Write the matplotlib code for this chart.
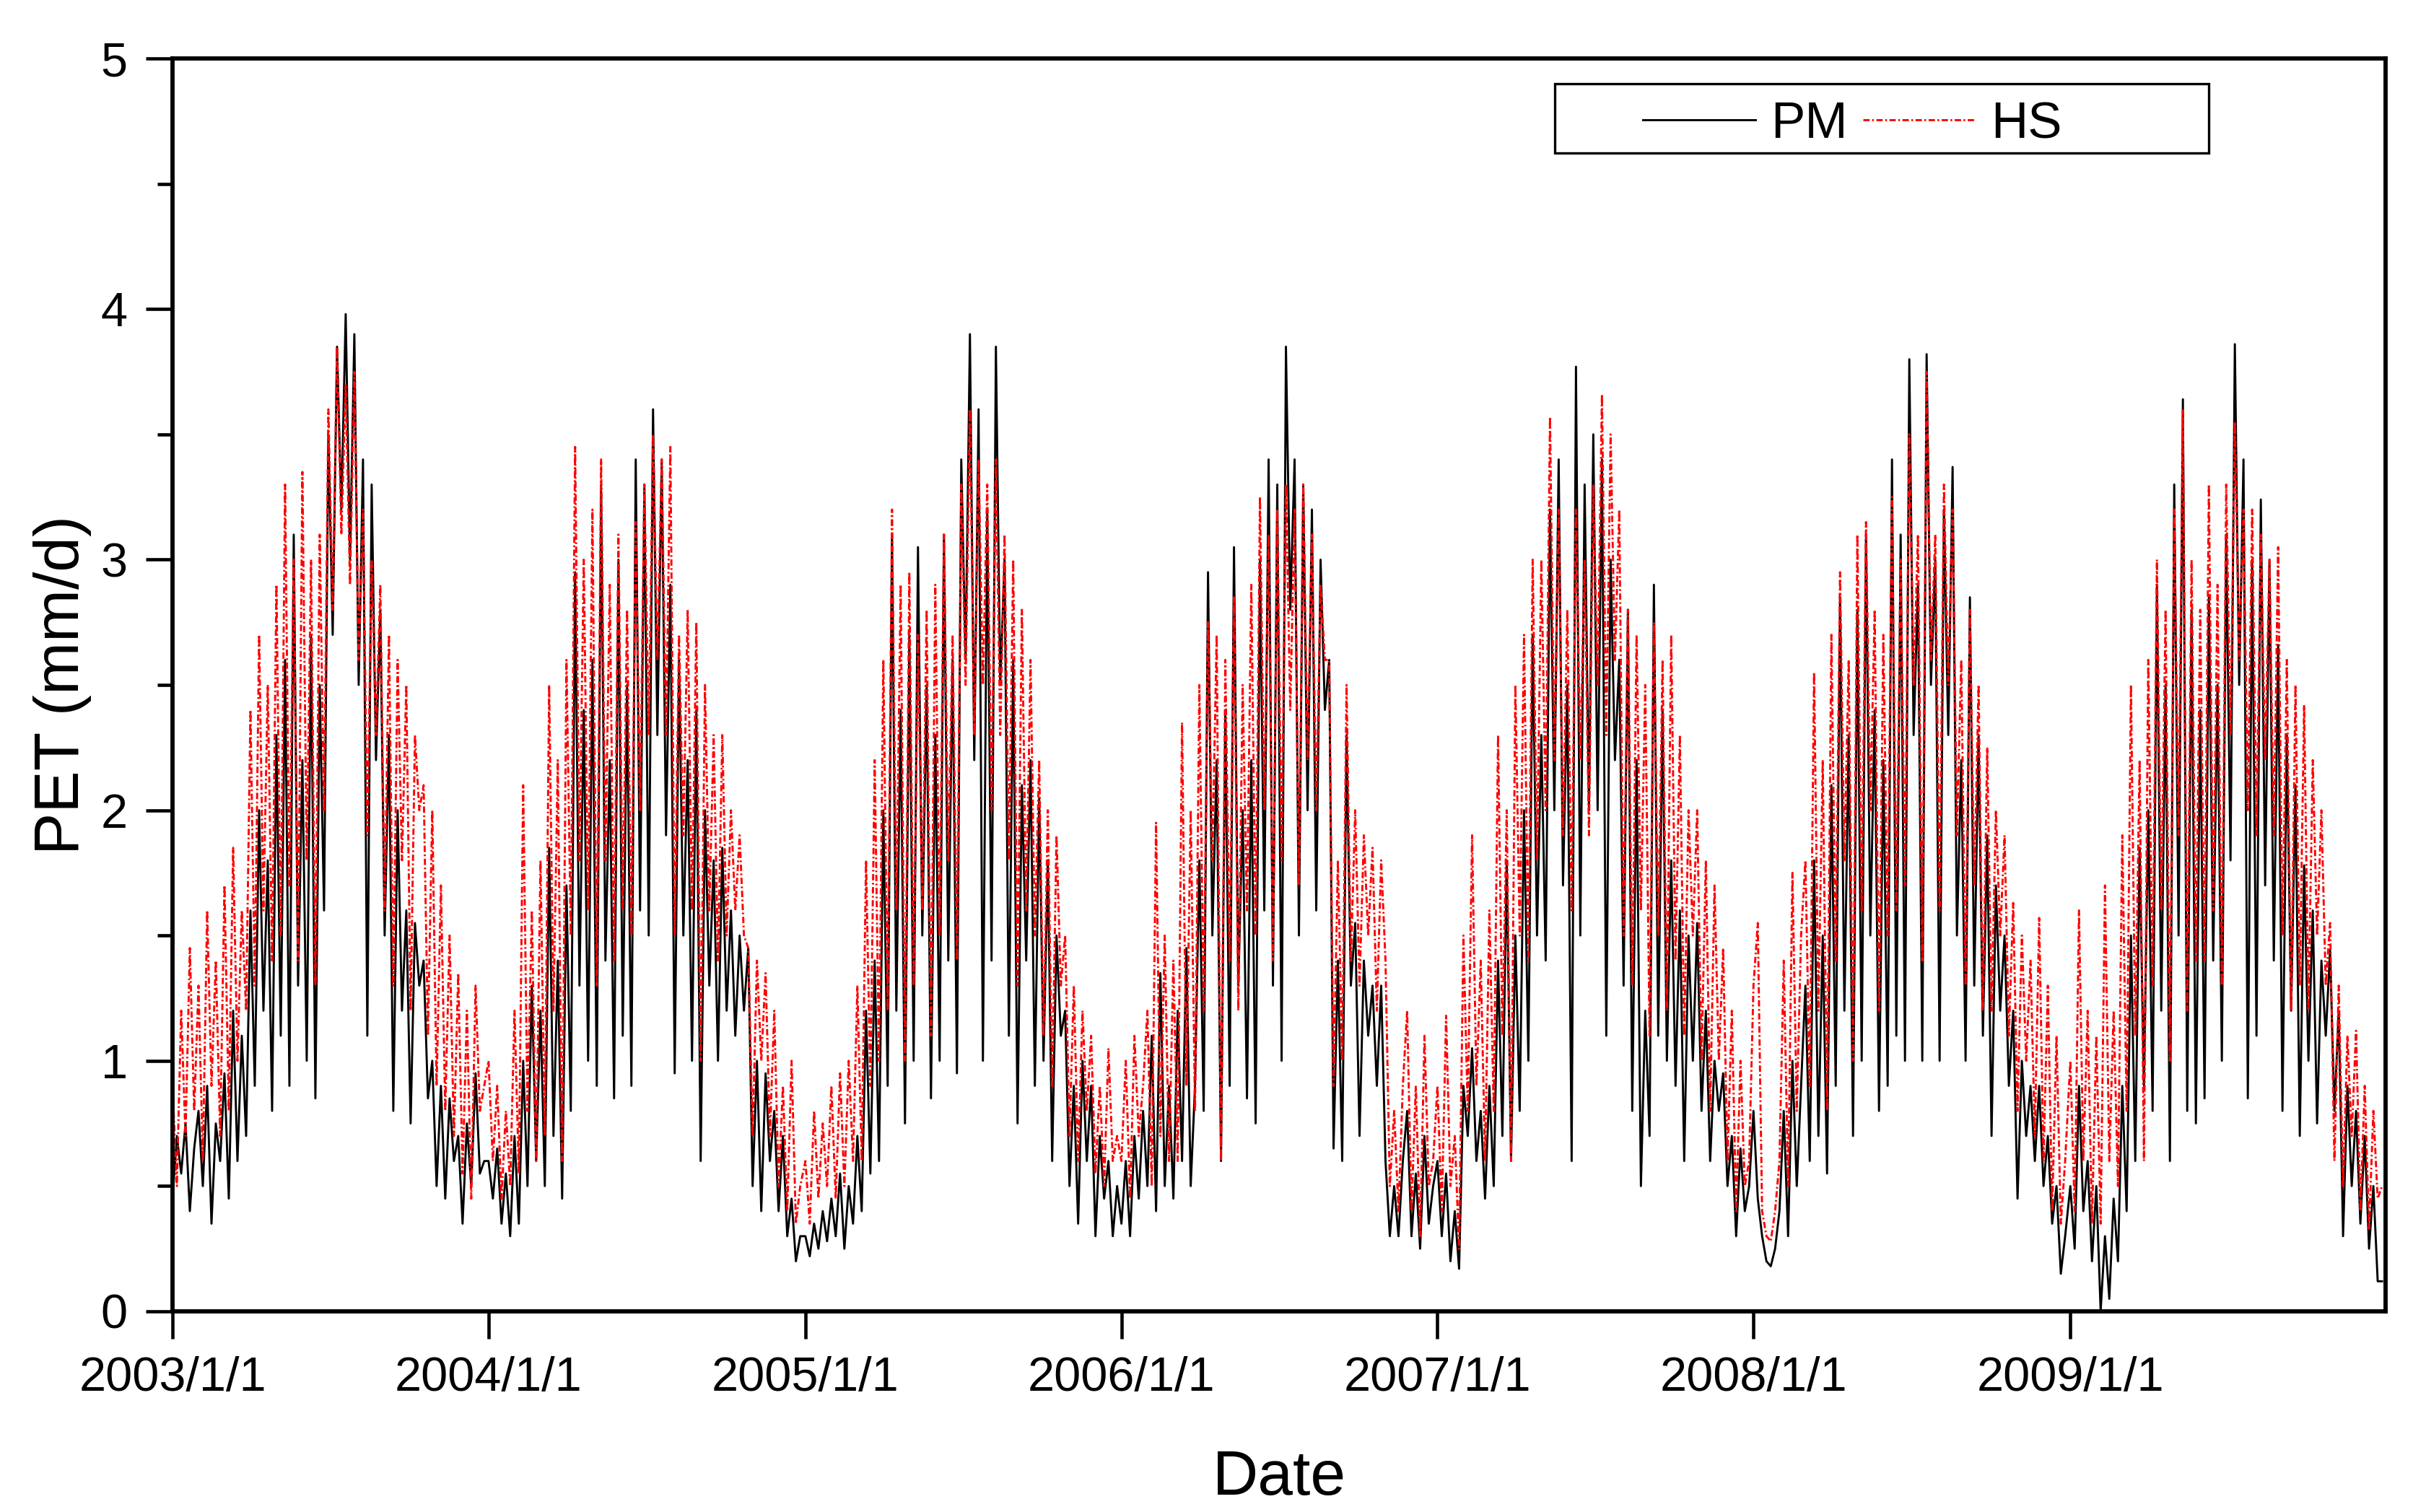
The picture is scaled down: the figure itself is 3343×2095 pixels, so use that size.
import numpy as np
import pandas as pd
import matplotlib
matplotlib.use("Agg")
import matplotlib.pyplot as plt
import matplotlib.dates as mdates
from matplotlib.ticker import MultipleLocator, FuncFormatter
from matplotlib.patches import Rectangle

# --------------
# PET values, one value every 5 days (73 per year)
# --------------
years = [2003, 2004, 2005, 2006, 2007, 2008, 2009]

pm_2003 = [0.45, 0.7, 0.55, 0.75, 0.4, 0.65, 0.8, 0.5, 0.9, 0.35, 0.75, 0.6,
           0.95, 0.45, 1.2, 0.6, 1.1, 0.7, 1.6, 0.9, 2.0, 1.2, 1.8, 0.8,
           2.3, 1.1, 2.6, 0.9, 3.1, 1.3, 2.2, 1.0, 2.7, 0.85, 2.5, 1.6,
           3.5, 2.7, 3.85, 3.2, 3.98, 3.0, 3.9, 2.5, 3.4, 1.1, 3.3, 2.2,
           2.8, 1.5, 2.3, 0.8, 2.0, 1.2, 1.6, 0.75, 1.55, 1.3, 1.4, 0.85,
           1.0, 0.5, 0.9, 0.45, 0.85, 0.6, 0.7, 0.35, 0.75, 0.5, 0.95, 0.55, 0.6]
hs_2003 = [0.9, 0.5, 1.2, 0.7, 1.45, 0.8, 1.3, 0.6, 1.6, 0.9, 1.4, 0.7,
           1.7, 0.8, 1.85, 1.0, 1.6, 1.2, 2.4, 1.3, 2.7, 1.6, 2.5, 1.4,
           2.9, 1.5, 3.3, 1.7, 3.0, 1.4, 3.35, 1.8, 3.0, 1.3, 3.1, 2.0,
           3.6, 2.8, 3.85, 3.1, 3.7, 2.9, 3.75, 2.6, 3.2, 1.9, 3.0, 2.3,
           2.9, 1.6, 2.7, 1.3, 2.6, 1.8, 2.5, 1.2, 2.3, 2.0, 2.1, 1.1,
           2.0, 0.9, 1.7, 0.8, 1.5, 0.7, 1.35, 0.55, 1.2, 0.45, 1.3, 0.8, 0.9]

pm_2004 = [0.6, 0.45, 0.65, 0.35, 0.55, 0.3, 0.7, 0.35, 1.0, 0.5, 1.3, 0.6,
           1.2, 0.5, 1.85, 0.7, 1.4, 0.45, 1.7, 0.8, 2.95, 1.3, 2.4, 1.0,
           2.6, 0.9, 3.3, 1.4, 2.2, 0.85, 3.0, 1.1, 2.5, 0.9, 3.4, 1.6,
           3.3, 1.5, 3.6, 2.3, 3.4, 1.9, 2.9, 0.95, 2.6, 1.5, 2.2, 1.0,
           2.4, 0.6, 2.0, 1.3, 1.8, 1.0, 1.85, 1.2, 1.6, 1.1, 1.5, 1.2,
           1.45, 0.5, 1.0, 0.4, 0.95, 0.6, 0.8, 0.4, 0.7, 0.3, 0.45, 0.2, 0.3]
hs_2004 = [1.0, 0.6, 0.9, 0.45, 0.8, 0.5, 1.2, 0.55, 2.1, 0.8, 1.6, 0.6,
           1.8, 0.7, 2.5, 1.2, 2.2, 0.6, 2.6, 1.5, 3.45, 1.8, 3.0, 1.6,
           3.2, 1.3, 3.4, 1.8, 2.9, 1.4, 3.1, 1.6, 2.8, 1.5, 3.15, 2.0,
           3.3, 2.3, 3.5, 2.6, 3.4, 2.3, 3.45, 1.5, 2.7, 1.9, 2.8, 1.6,
           2.75, 1.0, 2.5, 1.6, 2.3, 1.4, 2.3, 1.5, 2.0, 1.6, 1.9, 1.5,
           1.45, 0.7, 1.4, 1.0, 1.35, 0.7, 1.2, 0.5, 0.9, 0.4, 1.0, 0.35, 0.5]

pm_2005 = [0.3, 0.22, 0.35, 0.25, 0.4, 0.28, 0.45, 0.3, 0.55, 0.25, 0.5, 0.35,
           0.7, 0.4, 1.2, 0.55, 1.4, 0.6, 2.0, 0.9, 3.1, 1.2, 2.4, 0.75,
           2.7, 1.0, 3.05, 1.5, 2.5, 0.85, 2.3, 1.0, 3.1, 1.4, 2.6, 0.95,
           3.4, 2.6, 3.9, 2.2, 3.6, 1.0, 3.2, 1.4, 3.85, 2.5, 3.0, 1.1,
           2.6, 0.75, 2.1, 1.4, 2.2, 0.9, 2.05, 1.0, 1.8, 0.6, 1.5, 1.1,
           1.2, 0.5, 0.9, 0.35, 1.0, 0.6, 0.9, 0.3, 0.7, 0.45, 0.6, 0.3, 0.5]
hs_2005 = [0.6, 0.35, 0.8, 0.45, 0.75, 0.5, 0.9, 0.45, 0.95, 0.5, 1.0, 0.6,
           1.3, 0.6, 1.8, 0.9, 2.2, 1.0, 2.6, 1.2, 3.2, 1.6, 2.9, 1.0,
           2.95, 1.3, 2.7, 1.6, 2.8, 1.1, 2.9, 1.5, 3.1, 1.8, 2.7, 1.4,
           3.3, 2.5, 3.6, 2.3, 3.4, 2.5, 3.3, 2.0, 3.4, 2.3, 3.1, 1.8,
           3.0, 1.3, 2.8, 1.6, 2.6, 1.5, 2.2, 1.1, 2.0, 0.9, 1.9, 1.3,
           1.5, 0.7, 1.3, 0.6, 1.2, 0.8, 1.1, 0.55, 0.9, 0.5, 1.05, 0.6, 0.7]

pm_2006 = [0.35, 0.6, 0.3, 0.7, 0.45, 0.8, 0.5, 1.1, 0.4, 1.35, 0.5, 0.9,
           0.45, 1.2, 0.6, 1.45, 0.5, 0.9, 1.8, 0.8, 2.95, 1.5, 2.2, 0.6,
           2.4, 0.9, 3.05, 1.3, 2.0, 0.85, 2.2, 0.75, 3.0, 1.6, 3.4, 1.3,
           3.3, 1.0, 3.85, 2.8, 3.4, 1.5, 3.3, 2.0, 3.2, 1.6, 3.0, 2.4,
           2.6, 0.65, 1.4, 0.6, 2.3, 1.3, 1.55, 0.7, 1.4, 1.1, 1.3, 0.9,
           1.3, 0.6, 0.3, 0.5, 0.3, 0.6, 0.8, 0.3, 0.55, 0.25, 0.7, 0.35, 0.5]
hs_2006 = [0.6, 1.0, 0.45, 1.1, 0.7, 0.9, 1.2, 0.5, 1.95, 0.7, 1.5, 0.6,
           1.4, 0.6, 2.35, 0.9, 2.0, 0.8, 2.5, 1.2, 2.75, 1.8, 2.7, 0.6,
           2.6, 1.4, 2.85, 1.2, 2.5, 1.6, 2.9, 1.5, 3.25, 2.0, 3.1, 1.4,
           3.2, 1.8, 3.3, 2.4, 3.2, 1.7, 3.3, 2.2, 3.1, 2.0, 2.9, 2.6,
           2.6, 0.9, 1.8, 1.0, 2.5, 1.4, 2.0, 1.3, 1.9, 1.5, 1.85, 1.2,
           1.8, 1.4, 0.5, 0.8, 0.4, 0.9, 1.2, 0.4, 0.9, 0.3, 1.1, 0.5, 0.6]

pm_2007 = [0.6, 0.3, 0.55, 0.2, 0.4, 0.17, 0.9, 0.7, 1.05, 0.6, 0.8, 0.45,
           0.9, 0.5, 1.4, 0.7, 1.8, 0.6, 1.5, 0.8, 2.0, 1.0, 2.7, 1.5,
           2.3, 1.4, 3.2, 2.0, 3.4, 1.7, 2.5, 0.6, 3.77, 1.5, 3.3, 2.0,
           3.5, 2.0, 3.4, 1.1, 3.0, 2.2, 2.6, 1.3, 2.8, 0.8, 2.2, 0.5,
           1.2, 0.7, 2.9, 1.1, 2.4, 1.0, 1.8, 0.9, 1.6, 0.6, 1.5, 1.0,
           1.55, 0.8, 1.2, 0.6, 1.0, 0.8, 0.95, 0.5, 0.7, 0.3, 0.65, 0.4, 0.5]
hs_2007 = [0.9, 0.4, 1.18, 0.5, 0.7, 0.25, 1.5, 0.8, 1.9, 0.9, 1.4, 0.6,
           1.6, 0.8, 2.3, 1.1, 2.0, 0.6, 2.5, 1.5, 2.7, 1.4, 3.0, 1.8,
           3.0, 2.0, 3.57, 2.2, 3.2, 1.9, 2.8, 1.6, 3.2, 2.2, 3.0, 1.9,
           3.3, 2.5, 3.66, 2.3, 3.5, 2.6, 3.2, 1.5, 2.8, 1.3, 2.7, 1.6,
           2.5, 1.1, 2.75, 1.5, 2.6, 1.2, 2.7, 1.4, 2.3, 1.1, 2.0, 1.5,
           2.0, 1.0, 1.8, 0.8, 1.7, 1.0, 1.45, 0.6, 1.2, 0.4, 1.0, 0.5, 0.6]

pm_2008 = [0.8, 0.45, 0.3, 0.2, 0.18, 0.25, 0.4, 0.8, 0.3, 1.0, 0.5, 0.9,
           1.3, 0.6, 1.8, 0.7, 1.5, 0.55, 2.1, 0.9, 2.85, 1.2, 2.3, 0.7,
           2.8, 1.0, 3.1, 1.5, 2.4, 0.8, 2.2, 0.9, 3.4, 1.1, 3.1, 1.0,
           3.8, 2.3, 2.9, 1.0, 3.82, 2.5, 3.0, 1.0, 3.2, 2.3, 3.37, 1.5,
           2.2, 1.0, 2.85, 1.3, 2.3, 1.1, 1.9, 0.7, 1.7, 1.2, 1.5, 0.9,
           1.2, 0.45, 1.0, 0.7, 0.9, 0.6, 0.9, 0.5, 0.7, 0.35, 0.5, 0.15, 0.3]
hs_2008 = [1.3, 1.55, 0.4, 0.3, 0.28, 0.4, 0.6, 1.4, 0.5, 1.75, 0.8, 1.5,
           1.8, 0.9, 2.55, 1.2, 2.2, 0.8, 2.7, 1.4, 2.95, 1.8, 2.6, 1.0,
           3.1, 1.6, 3.15, 2.0, 2.8, 1.2, 2.7, 1.5, 3.25, 1.6, 3.0, 1.7,
           3.5, 2.5, 3.1, 1.4, 3.75, 2.6, 3.1, 1.6, 3.3, 2.5, 3.2, 1.9,
           2.6, 1.3, 2.8, 1.7, 2.5, 1.2, 2.25, 1.2, 2.0, 1.5, 1.9, 1.1,
           1.63, 0.8, 1.5, 1.0, 1.4, 0.7, 1.57, 0.6, 1.3, 0.4, 1.1, 0.35, 0.6]

pm_2009 = [0.5, 0.25, 0.9, 0.4, 0.6, 0.2, 0.5, 0.0, 0.3, 0.05, 0.45, 0.2,
           0.9, 0.4, 1.5, 0.6, 1.85, 0.9, 2.0, 0.8, 2.9, 1.2, 2.5, 0.6,
           3.3, 1.5, 3.64, 0.8, 2.8, 0.75, 2.4, 0.85, 2.85, 1.4, 2.5, 1.0,
           3.1, 1.8, 3.86, 2.5, 3.4, 0.85, 3.0, 1.1, 3.24, 1.7, 3.0, 1.4,
           2.66, 0.8, 2.3, 1.2, 2.1, 0.7, 1.78, 1.0, 1.6, 0.75, 1.4, 1.1,
           1.44, 0.8, 1.2, 0.3, 0.9, 0.5, 0.8, 0.35, 0.7, 0.25, 0.5, 0.12, 0.12]
hs_2009 = [1.0, 0.4, 1.6, 0.6, 1.2, 0.35, 1.1, 0.35, 1.7, 0.6, 1.2, 0.5,
           1.9, 0.8, 2.5, 1.1, 2.2, 0.6, 2.6, 1.3, 3.0, 1.6, 2.8, 1.0,
           3.2, 1.9, 3.6, 1.2, 3.0, 1.4, 2.8, 1.4, 3.3, 1.6, 2.9, 1.3,
           3.3, 2.3, 3.55, 2.6, 3.2, 2.0, 3.2, 1.9, 3.1, 2.2, 3.0, 1.9,
           3.05, 1.5, 2.6, 1.2, 2.5, 1.3, 2.42, 1.2, 2.2, 1.5, 2.0, 1.3,
           1.55, 0.6, 1.3, 0.5, 1.1, 0.7, 1.12, 0.4, 0.9, 0.33, 0.8, 0.45, 0.5]

pm_by_year = [pm_2003, pm_2004, pm_2005, pm_2006, pm_2007, pm_2008, pm_2009]
hs_by_year = [hs_2003, hs_2004, hs_2005, hs_2006, hs_2007, hs_2008, hs_2009]

dates = np.concatenate([pd.date_range("%d-01-01" % y, periods=73, freq="5D").values
                        for y in years])
pm = np.concatenate(pm_by_year)
hs = np.concatenate(hs_by_year)

################################################################################
#   PLOT
################################################################################
plt.rcParams['font.family'] = ['Liberation Sans', 'DejaVu Sans']

fig = plt.figure(figsize=(3343 / 300, 2095 / 300), dpi=300)
ax = fig.add_axes([0.0715, 0.1327, 0.9171, 0.8286])

ax.plot(dates, pm, color='black', lw=0.7, label='PM')
ax.plot(dates, hs, color='red', lw=0.7, dashes=(3.0, 1.2, 0.8, 1.2), label='HS')

ax.set_xlim(pd.Timestamp("2003-01-01"), pd.Timestamp("2009-12-31"))
ax.set_ylim(0, 5)

ax.xaxis.set_major_locator(mdates.YearLocator())
ax.xaxis.set_major_formatter(FuncFormatter(
    lambda v, pos: "%d/%d/%d" % (mdates.num2date(v).year, mdates.num2date(v).month,
                                 mdates.num2date(v).day)))
ax.yaxis.set_major_locator(MultipleLocator(1))
ax.yaxis.set_minor_locator(MultipleLocator(0.5))

ax.tick_params(which='major', direction='out', length=9, width=1.1,
               labelsize=16, pad=6)
ax.tick_params(which='minor', direction='out', length=5, width=1.1)
for s in ax.spines.values():
    s.set_linewidth(1.4)

ax.set_xlabel("Date", fontsize=21, labelpad=16)
ax.set_ylabel("PET (mm/d)", fontsize=21, labelpad=3)

# legend: entries in a row, frame drawn as a plain box
ax.add_patch(Rectangle((0.6246, 0.9245), 0.2955, 0.0555, transform=ax.transAxes,
                       fill=False, edgecolor='black', lw=0.8, zorder=5))
ax.legend(loc='center left', bbox_to_anchor=(0.6644, 0.947), ncol=2,
          frameon=False, fontsize=17, handlelength=2.2, handletextpad=0.3,
          columnspacing=0.3, borderpad=0, borderaxespad=0)

fig.savefig("out.png", dpi=300)
